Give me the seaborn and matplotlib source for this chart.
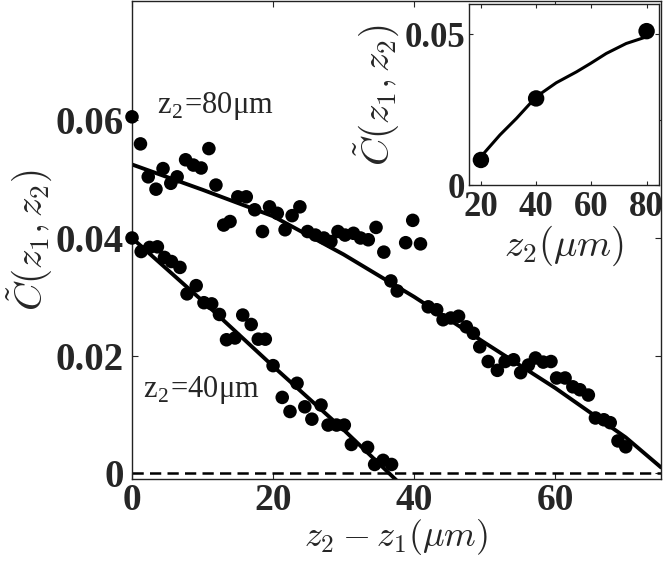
import numpy as np
import pandas as pd
import matplotlib
matplotlib.use("Agg")
import matplotlib.pyplot as plt
import seaborn as sns

# ---- data ----
x80 = [0, 1.2, 2.3, 3.4, 4.4, 5.5, 6.4, 7.6, 8.7, 9.8, 10.9, 11.9, 13.0, 13.9, 15.0,
       16.2, 17.4, 18.5, 19.5, 20.6, 21.7, 22.7, 23.8, 24.9, 26.0, 27.2, 28.2, 29.2,
       30.2, 31.4, 32.4, 33.5, 34.6, 35.7, 36.7, 37.6, 38.8, 39.8, 40.9, 42.0, 43.2,
       44.1, 45.2, 46.3, 47.4, 48.4, 49.3, 50.5, 51.8, 52.9, 54.1, 55.1, 56.2, 57.2,
       58.3, 59.4, 60.2, 61.4, 62.5, 63.5, 64.7, 65.7, 66.9, 67.8, 68.9, 70.0]
y80 = [0.0606, 0.0560, 0.0504, 0.0483, 0.0518, 0.0493, 0.0504, 0.0533, 0.0524, 0.0519,
       0.0552, 0.0490, 0.0422, 0.0428, 0.0470, 0.0470, 0.0448, 0.0411, 0.0453, 0.0442,
       0.0414, 0.0438, 0.0453, 0.0411, 0.0405, 0.0400, 0.0394, 0.0411, 0.0405, 0.0408,
       0.0400, 0.0397, 0.0418, 0.0376, 0.0327, 0.0310, 0.0392, 0.0430, 0.0390, 0.0283,
       0.0278, 0.0261, 0.0264, 0.0267, 0.0249, 0.0238, 0.0215, 0.0190, 0.0175, 0.0190,
       0.0193, 0.0171, 0.0184, 0.0196, 0.0189, 0.0190, 0.0162, 0.0162, 0.0147, 0.0142,
       0.0133, 0.0094, 0.0091, 0.0086, 0.0055, 0.0045]
fit80_x = [0, 10, 20, 30, 40, 50, 60, 70, 75]
fit80_y = [0.0525, 0.0482, 0.0437, 0.0372, 0.0300, 0.0222, 0.0145, 0.0061, 0.0010]

x40 = [0, 1.3, 2.5, 3.6, 4.6, 5.6, 6.8, 7.8, 9.1, 10.2, 11.3, 12.4, 13.4, 14.6, 15.7,
       16.9, 17.9, 18.9, 20.0, 21.3, 22.4, 23.4, 24.5, 25.5, 26.8, 27.8, 29.0, 30.1,
       31.1, 33.4, 34.4, 35.6, 36.8]
y40 = [0.0400, 0.0377, 0.0384, 0.0385, 0.0367, 0.0360, 0.0350, 0.0305, 0.0319, 0.0290,
       0.0288, 0.0270, 0.0227, 0.0230, 0.0269, 0.0253, 0.0228, 0.0228, 0.0183, 0.0129,
       0.0105, 0.0153, 0.0113, 0.0092, 0.0116, 0.0082, 0.0082, 0.0082, 0.0049, 0.0044,
       0.0015, 0.0022, 0.0015]
fit40_x = [0, 10, 20, 30, 37.5]
fit40_y = [0.0400, 0.0293, 0.0182, 0.0074, -0.0012]

inset_x = [20, 40, 80]
inset_y = [0.0083, 0.0287, 0.0510]
inset_fit_x = [20, 26.9, 32.9, 40.1, 47.3, 54.6, 59.7, 65.4, 72.6, 79.9]
inset_fit_y = [0.0094, 0.0166, 0.0221, 0.0293, 0.0339, 0.0375, 0.0403, 0.0436, 0.0469, 0.0491]

main_xticks = [0, 20, 40, 60]
main_xticklabels = ["0", "20", "40", "60"]
main_yticks = [0, 0.02, 0.04, 0.06]
main_yticklabels = ["0", "0.02", "0.04", "0.06"]
inset_xticks = [20, 40, 60, 80]
inset_xticklabels = ["20", "40", "60", "80"]
inset_yticks = [0, 0.05]
inset_yticklabels = ["0", "0.05"]

# ---- style ----
sns.set_style("ticks")
plt.rcParams["font.family"] = ["Liberation Serif", "DejaVu Serif"]
plt.rcParams["mathtext.fontset"] = "cm"

fig = plt.figure(figsize=(6.64, 5.63), dpi=100)
ax = fig.add_axes([0.1988, 0.1487, 0.7967, 0.8496])

d80 = pd.DataFrame({"x": x80, "y": y80})
d40 = pd.DataFrame({"x": x40, "y": y40})
f80 = pd.DataFrame({"x": fit80_x, "y": fit80_y})
f40 = pd.DataFrame({"x": fit40_x, "y": fit40_y})

ax.axhline(0, color="black", lw=1.8, ls=(0, (4.5, 2.5)), zorder=1)
sns.lineplot(data=f80, x="x", y="y", ax=ax, color="black", lw=2.8, sort=False, zorder=2)
sns.lineplot(data=f40, x="x", y="y", ax=ax, color="black", lw=2.8, sort=False, zorder=2)
sns.scatterplot(data=d80, x="x", y="y", ax=ax, color="black", s=95, edgecolor="none",
                zorder=3, clip_on=False)
sns.scatterplot(data=d40, x="x", y="y", ax=ax, color="black", s=95, edgecolor="none",
                zorder=3, clip_on=False)

ax.set_xlim(0, 75)
ax.set_ylim(-0.00102, 0.0803)
ax.set_xticks(main_xticks)
ax.set_xticklabels(main_xticklabels, fontweight="bold", fontsize=27)
ax.set_yticks(main_yticks)
ax.set_yticklabels(main_yticklabels, fontweight="bold", fontsize=28)
ax.tick_params(axis="x", direction="in", length=4, width=0.8, top=True, pad=3)
ax.tick_params(axis="y", direction="in", length=4, width=0.8, right=True, pad=6)
ax.set_xlabel(r"$z_2 - z_1(\mu m)$", fontsize=26, labelpad=-1)
ax.set_ylabel(r"$\tilde{C}(z_1, z_2)$", fontsize=28, labelpad=0)
for s in ax.spines.values():
    s.set_linewidth(1.0)
    s.set_color("#222222")

ax.text(3.5, 0.0613, r"z$_\mathregular{2}$=80μm", fontsize=22, ha="left", va="baseline")
ax.text(1.56, 0.0130, r"z$_\mathregular{2}$=40μm", fontsize=22, ha="left", va="baseline")

# ---- inset ----
ins = fig.add_axes([0.7068, 0.6714, 0.2861, 0.3215])
di = pd.DataFrame({"x": inset_x, "y": inset_y})
fi = pd.DataFrame({"x": inset_fit_x, "y": inset_fit_y})
sns.lineplot(data=fi, x="x", y="y", ax=ins, color="black", lw=2.2, sort=False)
sns.scatterplot(data=di, x="x", y="y", ax=ins, color="black", s=140, edgecolor="none",
                zorder=3, clip_on=False)
ins.set_xlim(15.8, 84.6)
ins.set_ylim(0, 0.06)
ins.set_xticks(inset_xticks)
ins.set_xticklabels(inset_xticklabels, fontweight="bold", fontsize=25)
ins.set_yticks(inset_yticks)
ins.set_yticklabels(inset_yticklabels, fontweight="bold", fontsize=25)
ins.tick_params(axis="x", direction="in", length=3, width=0.8, top=True, pad=4)
ins.tick_params(axis="y", direction="in", length=3, width=0.8, right=True, pad=3)
ins.set_xlabel(r"$z_2(\mu m)$", fontsize=28, labelpad=0)
ins.set_ylabel(r"$\tilde{C}(z_1, z_2)$", fontsize=28, labelpad=2)
for s in ins.spines.values():
    s.set_linewidth(1.0)
    s.set_color("#222222")

fig.savefig("out.png", dpi=100)
